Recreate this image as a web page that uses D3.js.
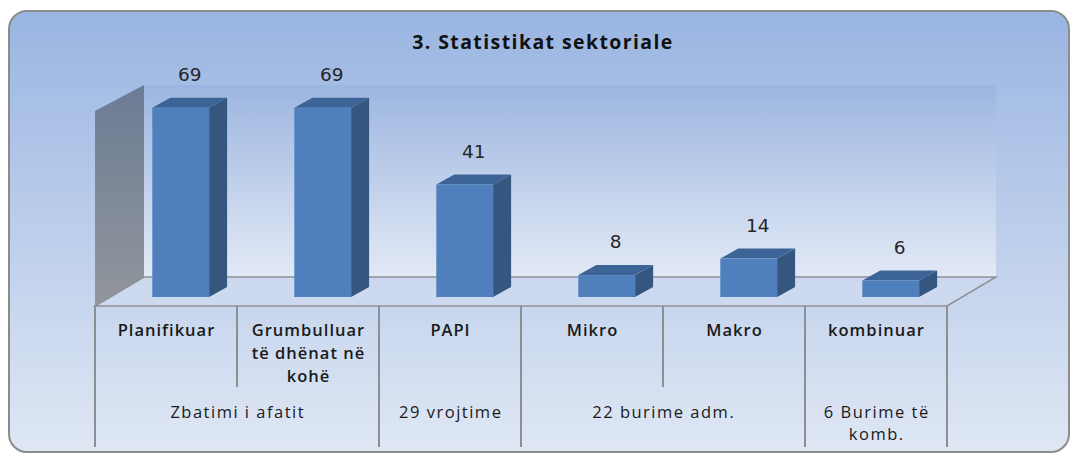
<!DOCTYPE html>
<html>
<head>
<meta charset="utf-8">
<script src="https://cdn.jsdelivr.net/npm/d3@7"></script>
<style>
  html, body { margin: 0; padding: 0; background: #fff; }
  svg { display: block; }
</style>
</head>
<body>
<div id="chart"></div>
<script>
// data
var categories = ["Planifikuar", "Grumbulluar\ntë dhënat në\nkohë", "PAPI", "Mikro", "Makro", "kombinuar"];
var values = [69, 69, 41, 8, 14, 6];
var groupLabels = ["Zbatimi i afatit", "29 vrojtime", "22 burime adm.", "6 Burime të\nkomb."];
var groupSizes = [2, 1, 2, 1];
var title = "3. Statistikat sektoriale";

var w = 1073, h = 456;
var svg = d3.select("#chart").append("svg")
  .attr("width", w).attr("height", h);

var defs = svg.append("defs");
function vgrad(id, c1, c2) {
  var g = defs.append("linearGradient").attr("id", id)
    .attr("x1", "0%").attr("x2", "0%").attr("y1", "0%").attr("y2", "100%");
  g.append("stop").attr("offset", "0%").attr("stop-color", c1);
  g.append("stop").attr("offset", "100%").attr("stop-color", c2);
}
vgrad("bg", "#9ab5e2", "#dfe7f4");
vgrad("wall", "#9db6e0", "#e2e9f5");
vgrad("side", "#6c7c95", "#92969c");

// outer frame
svg.append("rect")
  .attr("x", 9).attr("y", 11).attr("width", 1060).attr("height", 441)
  .attr("rx", 18).attr("fill", "url(#bg)")
  .attr("stroke", "#8b8b8b").attr("stroke-width", 2);

// plot geometry
var x0 = 95, x1 = 947;       // front edge of the floor
var floorY = 306;            // front edge y
var depthX = 49, depthY = 29; // floor depth
var wallTop = 85;

var x = d3.scaleBand().domain(d3.range(categories.length))
  .range([x0, x1]).paddingInner(0.6).paddingOuter(0.3);
var step = x.step();

// bars sit a third of the way into the floor
var barDx = depthX * 0.3, barDy = depthY * 0.31;
var base = floorY - barDy;
var y = d3.scaleLinear().domain([0, 70])
  .range([base, base - ((floorY - depthY) - wallTop)]);

// back wall
svg.append("rect")
  .attr("x", x0 + depthX).attr("y", wallTop)
  .attr("width", x1 - x0).attr("height", floorY - depthY - wallTop)
  .attr("fill", "url(#wall)");

// left side wall
svg.append("path")
  .attr("d", "M" + x0 + "," + floorY +
    "L" + x0 + "," + (wallTop + depthY - 3) +
    "L" + (x0 + depthX) + "," + wallTop +
    "L" + (x0 + depthX) + "," + (floorY - depthY) + "Z")
  .attr("fill", "url(#side)");

// floor
svg.append("path")
  .attr("d", "M" + x0 + "," + floorY +
    "L" + (x0 + depthX) + "," + (floorY - depthY) +
    "L" + (x1 + depthX) + "," + (floorY - depthY) +
    "L" + x1 + "," + floorY + "Z")
  .attr("fill", "#cdd9ef").attr("fill-opacity", 0.8)
  .attr("stroke", "#8e9196").attr("stroke-width", 1.5);

// bars (side, top, front)
var bd = 18, bdy = 10;
var bars = svg.selectAll("g.bar").data(values).enter().append("g").attr("class", "bar");
bars.append("path")
  .attr("d", function(d, i) {
    var l = x(i) + barDx + x.bandwidth(), t = y(d);
    return "M" + l + "," + t + "L" + (l + bd) + "," + (t - bdy) +
      "L" + (l + bd) + "," + (base - bdy) + "L" + l + "," + base + "Z";
  })
  .attr("fill", "#35577f");
bars.append("path")
  .attr("d", function(d, i) {
    var l = x(i) + barDx, t = y(d), r = l + x.bandwidth();
    return "M" + l + "," + t + "L" + (l + bd) + "," + (t - bdy) +
      "L" + (r + bd) + "," + (t - bdy) + "L" + r + "," + t + "Z";
  })
  .attr("fill", "#3c6496");
bars.append("rect")
  .attr("x", function(d, i) { return x(i) + barDx; })
  .attr("y", function(d) { return y(d); })
  .attr("width", x.bandwidth())
  .attr("height", function(d) { return base - y(d); })
  .attr("fill", "#4f80bd");

// value labels
svg.selectAll("text.val").data(values).enter().append("text")
  .attr("class", "val")
  .attr("x", function(d, i) { return x(i) + barDx + x.bandwidth() / 2 + bd / 2; })
  .attr("y", function(d) { return y(d) - 27; })
  .attr("text-anchor", "middle")
  .attr("font-family", "DejaVu Sans, sans-serif")
  .attr("font-size", "18.5px")
  .attr("fill", "#262626")
  .text(function(d) { return d; });

// title
svg.append("text")
  .attr("x", 543).attr("y", 49)
  .attr("text-anchor", "middle")
  .attr("font-family", "Open Sans, sans-serif")
  .attr("font-weight", "bold")
  .attr("font-size", "19.5px")
  .attr("letter-spacing", "1.4px")
  .attr("fill", "#111")
  .text(title);

// category table lines
var lineCol = "#8b8e93";
var lvl1Bottom = 387, lvl2Bottom = 447;
var groupEdges = [0];
groupSizes.forEach(function(s) { groupEdges.push(groupEdges[groupEdges.length - 1] + s); });

d3.range(categories.length + 1).forEach(function(i) {
  var xx = x0 + i * step;
  var full = groupEdges.indexOf(i) >= 0;
  svg.append("line")
    .attr("x1", xx).attr("x2", xx)
    .attr("y1", floorY).attr("y2", full ? lvl2Bottom : lvl1Bottom)
    .attr("stroke", lineCol).attr("stroke-width", 2);
});

function multiline(sel, str, lh) {
  str.split("\n").forEach(function(s, k) {
    sel.append("tspan").attr("x", sel.attr("x")).attr("dy", k === 0 ? 0 : lh).text(s);
  });
}

categories.forEach(function(c, i) {
  var t = svg.append("text")
    .attr("x", x0 + (i + 0.5) * step + 0.5).attr("y", 336)
    .attr("text-anchor", "middle")
    .attr("font-family", "Open Sans, sans-serif")
    .attr("font-weight", "600")
    .attr("font-size", "16.5px")
    .attr("letter-spacing", "1px")
    .attr("fill", "#1a1a1a");
  multiline(t, c, 23);
});

groupLabels.forEach(function(g, i) {
  var cx = x0 + (groupEdges[i] + groupEdges[i + 1]) / 2 * step + 0.75;
  var t = svg.append("text")
    .attr("x", cx).attr("y", 418)
    .attr("text-anchor", "middle")
    .attr("font-family", "Open Sans, sans-serif")
    .attr("font-size", "16.5px")
    .attr("letter-spacing", "1.5px")
    .attr("fill", "#1a1a1a");
  multiline(t, g, 22);
});
</script>
</body>
</html>
